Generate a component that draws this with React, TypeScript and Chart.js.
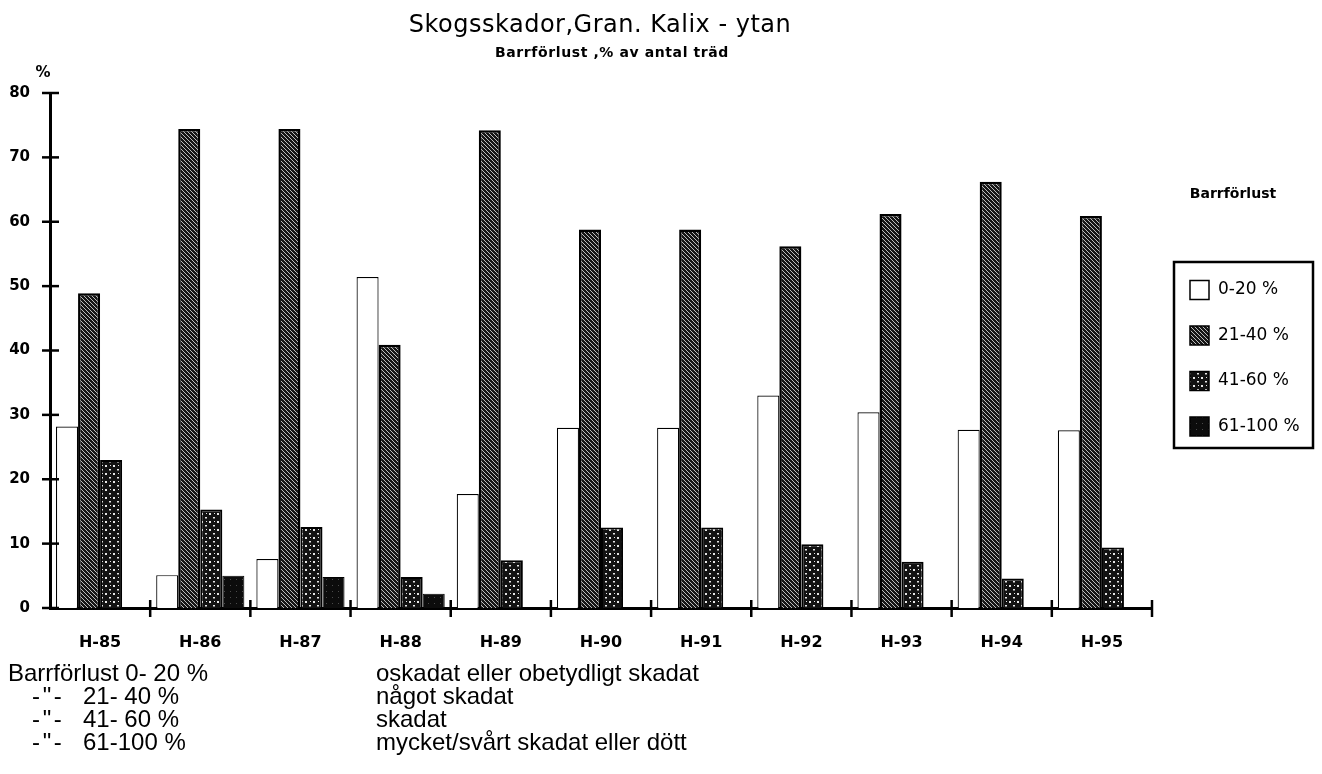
import React, { useEffect, useRef } from "react";
import { Chart, registerables } from "chart.js";

Chart.register(...registerables);

// ---- data ----
const categories = ["H-85", "H-86", "H-87", "H-88", "H-89", "H-90", "H-91", "H-92", "H-93", "H-94", "H-95"];
const seriesLabels = ["0-20 %", "21-40 %", "41-60 %", "61-100 %"];
const loss0to20 = [28.2, 5.1, 7.6, 51.4, 17.7, 28.0, 28.0, 33.0, 30.4, 27.7, 27.6];
const loss21to40 = [48.9, 74.4, 74.4, 40.9, 74.2, 58.8, 58.8, 56.2, 61.2, 66.2, 60.9];
const loss41to60 = [23.0, 15.3, 12.6, 4.8, 7.4, 12.5, 12.5, 9.9, 7.2, 4.6, 9.4];
const loss61to100 = [0, 5.0, 4.8, 2.2, 0, 0, 0, 0, 0, 0, 0];
const yMin = 0;
const yMax = 80;
const yStep = 10;

const titleText = "Skogsskador,Gran. Kalix - ytan";
const subtitleText = "Barrförlust ,% av antal träd";
const yUnitText = "%";
const legendTitleText = "Barrförlust";
const noteFirstLine = "Barrförlust 0- 20 %";
const noteDitto = ["- \" -", "- \" -", "- \" -"];
const noteRanges = ["21- 40 %", "41- 60 %", "61-100 %"];
const noteDescriptions = ["oskadat eller obetydligt skadat", "något skadat", "skadat", "mycket/svårt skadat eller dött"];

const W = 1322;
const H = 774;
const AREA = { left: 50, right: 1152, top: 93, bottom: 608 };

function makeTile(kind: string): HTMLCanvasElement {
  const c = document.createElement("canvas");
  if (kind === "hatch") {
    c.width = 4; c.height = 4;
    const g = c.getContext("2d")!;
    g.fillStyle = "#161616";
    g.fillRect(0, 0, 4, 4);
    g.strokeStyle = "#cfcfcf";
    g.lineWidth = 0.9;
    for (const o of [-4, 0, 4]) {
      g.beginPath();
      g.moveTo(o, 0);
      g.lineTo(o + 4, 4);
      g.stroke();
    }
  } else if (kind === "dots") {
    c.width = 8; c.height = 8;
    const g = c.getContext("2d")!;
    g.fillStyle = "#121212";
    g.fillRect(0, 0, 8, 8);
    g.fillStyle = "#e6e6e6";
    g.fillRect(1, 1, 2, 2);
    g.fillRect(5, 5, 2, 1.5);
    g.fillRect(6, 1, 1, 1);
  } else {
    c.width = 6; c.height = 6;
    const g = c.getContext("2d")!;
    g.fillStyle = "#0c0c0c";
    g.fillRect(0, 0, 6, 6);
    g.fillStyle = "#4a4a4a";
    g.fillRect(2, 3, 1, 1);
  }
  return c;
}

export default function App() {
  const canvasRef = useRef<HTMLCanvasElement | null>(null);

  useEffect(() => {
    const canvas = canvasRef.current!;
    const ctx0 = canvas.getContext("2d")!;
    const hatch = ctx0.createPattern(makeTile("hatch"), "repeat")!;
    const dots = ctx0.createPattern(makeTile("dots"), "repeat")!;
    const solid = ctx0.createPattern(makeTile("solid"), "repeat")!;

    const decor = {
      id: "decor",
      afterDraw(chart: any) {
        const { ctx, chartArea } = chart;
        const x = chart.scales.x;
        const y = chart.scales.y;
        ctx.save();
        ctx.strokeStyle = "#000";
        ctx.lineWidth = 2.5;
        y.ticks.forEach((t: any) => {
          const py = y.getPixelForValue(t.value);
          ctx.beginPath();
          ctx.moveTo(chartArea.left - 8, py);
          ctx.lineTo(chartArea.left + 9, py);
          ctx.stroke();
        });
        const n = x.ticks.length;
        const half = (x.getPixelForValue(1) - x.getPixelForValue(0)) / 2;
        for (let i = 1; i <= n; i++) {
          const px = x.getPixelForValue(i - 1) + half;
          ctx.beginPath();
          ctx.moveTo(px, chartArea.bottom - 8);
          ctx.lineTo(px, chartArea.bottom + 9);
          ctx.stroke();
        }
        ctx.fillStyle = "#000";
        ctx.font = 'bold 15px "DejaVu Sans"';
        ctx.textAlign = "center";
        ctx.textBaseline = "middle";
        ctx.fillText(yUnitText, chartArea.left - 7, chartArea.top - 20);

        // legend
        const bx = 1174, by = 262, bw = 139, bh = 186;
        ctx.lineWidth = 2.5;
        ctx.strokeRect(bx, by, bw, bh);
        ctx.font = 'bold 14px "DejaVu Sans"';
        ctx.textAlign = "center";
        ctx.fillText(legendTitleText, 1233, 194);
        chart.data.datasets.forEach((ds: any, i: number) => {
          const cy = 290 + i * 45.5;
          ctx.fillStyle = ds.backgroundColor;
          ctx.fillRect(1190, cy - 9.5, 19, 19);
          ctx.lineWidth = 1.5;
          ctx.strokeStyle = "#000";
          ctx.strokeRect(1190, cy - 9.5, 19, 19);
          ctx.fillStyle = "#000";
          ctx.font = '17px "DejaVu Sans"';
          ctx.textAlign = "left";
          ctx.fillText(ds.label, 1218, cy);
        });
        ctx.restore();
      },
    };

    const chart = new Chart(canvas, {
      type: "bar",
      data: {
        labels: categories,
        datasets: [
          { label: seriesLabels[0], data: loss0to20, backgroundColor: "#ffffff", borderColor: "#000", borderWidth: 1.2 },
          { label: seriesLabels[1], data: loss21to40, backgroundColor: hatch as any, borderColor: "#000", borderWidth: 2.5 },
          { label: seriesLabels[2], data: loss41to60, backgroundColor: dots as any, borderColor: "#000", borderWidth: 2 },
          { label: seriesLabels[3], data: loss61to100, backgroundColor: solid as any, borderColor: "#000", borderWidth: 1 },
        ],
      },
      options: {
        responsive: false,
        animation: false,
        devicePixelRatio: 1,
        layout: { padding: { left: 0, top: AREA.top, right: W - AREA.right, bottom: 0 } },
        plugins: {
          legend: { display: false },
          title: { display: false },
          tooltip: { enabled: false },
        },
        datasets: { bar: { categoryPercentage: 0.88, barPercentage: 1.0 } } as any,
        scales: {
          x: {
            grid: { display: false, drawTicks: false },
            border: { display: true, color: "#000", width: 3 },
            ticks: {
              color: "#000",
              padding: 25,
              font: { family: "DejaVu Sans", size: 16, weight: "bold" },
            },
            afterFit: (s: any) => { s.height = H - AREA.bottom; },
          },
          y: {
            min: yMin,
            max: yMax,
            grid: { display: false, drawTicks: false },
            border: { display: true, color: "#000", width: 3 },
            ticks: {
              stepSize: yStep,
              color: "#000",
              padding: 20,
              font: { family: "DejaVu Sans", size: 15, weight: "bold" },
            },
            afterFit: (s: any) => { s.width = AREA.left; },
          },
        },
      },
      plugins: [decor],
    });
    return () => chart.destroy();
  }, []);

  const rowCenters = [673, 696, 719, 742];
  const noteFont: React.CSSProperties = {
    position: "absolute",
    fontFamily: '"Liberation Sans", Arial, sans-serif',
    fontSize: 24,
    lineHeight: "24px",
    whiteSpace: "pre",
    color: "#000",
  };

  return (
    <div style={{ position: "absolute", left: 0, top: 0, width: W, height: H, background: "#fff", overflow: "hidden" }}>
      <canvas ref={canvasRef} width={W} height={H} style={{ position: "absolute", left: 0, top: 0, width: W, height: H }} />
      <div style={{ position: "absolute", left: 600, top: 24, transform: "translate(-50%, -50%)", fontFamily: '"DejaVu Sans", sans-serif', fontSize: 24, letterSpacing: "0.5px", whiteSpace: "nowrap", color: "#000" }}>
        {titleText}
      </div>
      <div style={{ position: "absolute", left: 612, top: 52, transform: "translate(-50%, -50%)", fontFamily: '"DejaVu Sans", sans-serif', fontSize: 14, letterSpacing: "0.6px", fontWeight: "bold", whiteSpace: "nowrap", color: "#000" }}>
        {subtitleText}
      </div>
      <div style={{ ...noteFont, left: 8, top: rowCenters[0] - 12 }}>{noteFirstLine}</div>
      {noteRanges.map((r, i) => (
        <React.Fragment key={r}>
          <div style={{ ...noteFont, left: 32, top: rowCenters[i + 1] - 12, letterSpacing: "-2px" }}>{noteDitto[i]}</div>
          <div style={{ ...noteFont, left: 83, top: rowCenters[i + 1] - 12 }}>{r}</div>
        </React.Fragment>
      ))}
      {noteDescriptions.map((d, i) => (
        <div key={d} style={{ ...noteFont, left: 376, top: rowCenters[i] - 12 }}>{d}</div>
      ))}
    </div>
  );
}
